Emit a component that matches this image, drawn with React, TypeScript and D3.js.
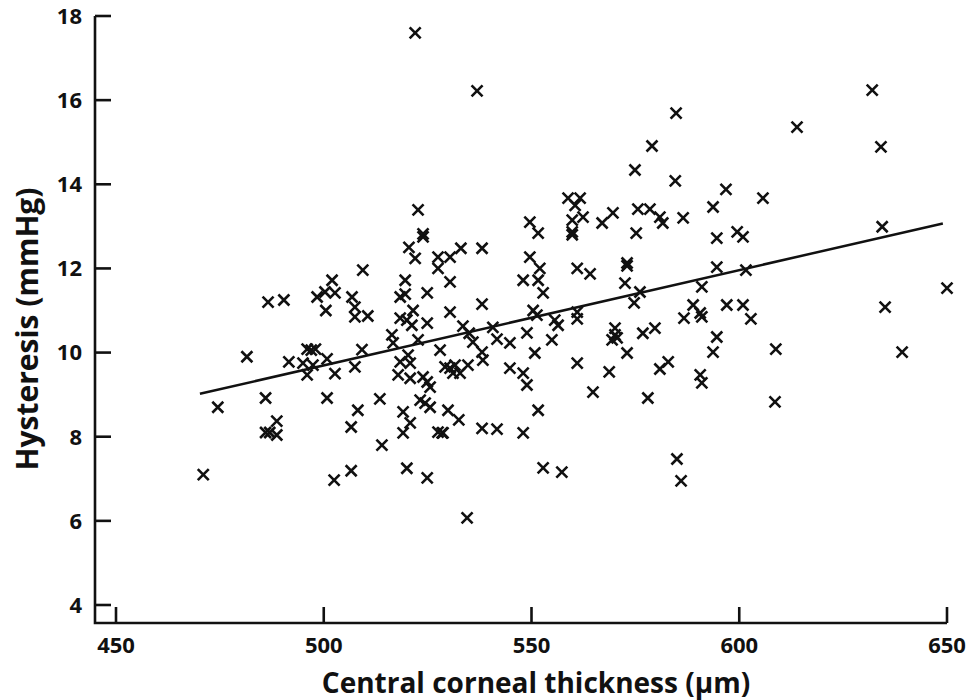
import React, { useEffect, useRef } from 'react'
import * as d3 from 'd3'

// central corneal thickness (µm) and hysteresis (mmHg)
const thickness = [
  471, 474.5, 481.5, 486, 487, 488.7, 488.7, 486, 486.6, 490.4,
  491.6, 496, 497, 498, 495, 496, 497.4, 500.8, 502.7, 500.8,
  498.4, 500.3, 502, 502.7, 500.5, 506.8, 507.5, 507.5, 510.6, 509.4,
  509.2, 507.5, 508.2, 506.6, 506.6, 502.5, 514, 513.5, 522.7, 523.9,
  523.9, 520.5, 522, 527.5, 527.5, 530.4, 533, 538.1, 530.4, 519.6,
  518.4, 519.6, 524.9, 521.5, 530.4, 538.1, 518.4, 520, 521.2, 524.9,
  516.4, 516.7, 522.7, 533.5, 535, 535.9, 540.7, 541.7, 544.8, 548.9,
  550.4, 551.3, 555.6, 556.4, 554.9, 550.8, 538.1, 538.3, 528, 520.3,
  518.4, 520.8, 517.9, 520.8, 523.9, 524.9, 525.6, 529.2, 530.4, 531.6,
  531.1, 532.8, 534.7, 544.8, 548, 548.9, 523.2, 524.4, 525.6, 519.1,
  520.8, 519.1, 529.9, 532.5, 527.5, 528.5, 528.7, 538.1, 541.7, 548,
  551.6, 520, 524.9, 534.5, 552.8, 557.3, 549.6, 551.6, 549.6, 552,
  551.6, 548, 552.8, 579, 574.9, 584.6, 596.8, 558.8, 561.7, 560.5,
  562.4, 567, 569.6, 575.6, 578.5, 580.9, 581.6, 586.5, 593.7, 605.7,
  559.8, 559.8, 559.8, 575.2, 594.6, 599.5, 600.9, 561, 564.1, 573,
  573, 572.5, 576.1, 574.7, 594.6, 601.6, 591, 588.9, 590.6, 591,
  586.7, 597, 600.9, 602.8, 561, 561, 570.1, 570.1, 570.6, 569.4,
  576.8, 579.7, 573, 594.6, 593.7, 561, 568.7, 564.8, 580.9, 582.9,
  590.6, 591, 578, 585, 586, 632, 613.9, 634.1, 584.8, 634.4,
  650, 635.1, 639.2, 608.8, 608.6, 522, 536.9,
]
const hysteresis = [
  7.1, 8.7, 9.9, 8.1, 8.1, 8.37, 8.04, 8.92, 11.2, 11.25,
  9.78, 10.08, 10.06, 10.08, 9.75, 9.47, 9.7, 9.85, 9.5, 8.92,
  11.32, 11.44, 11.72, 11.42, 11.0, 11.32, 11.08, 10.85, 10.87, 11.96,
  10.07, 9.66, 8.63, 8.23, 7.19, 6.97, 7.8, 8.9, 13.39, 12.82,
  12.75, 12.5, 12.24, 12.27, 12.0, 12.27, 12.48, 12.48, 11.68, 11.72,
  11.32, 11.39, 11.42, 11.0, 10.96, 11.15, 10.82, 10.77, 10.65, 10.7,
  10.42, 10.23, 10.3, 10.63, 10.46, 10.25, 10.6, 10.32, 10.23, 10.47,
  11.0, 10.89, 10.77, 10.65, 10.3, 9.99, 10.01, 9.82, 10.06, 9.94,
  9.78, 9.75, 9.47, 9.39, 9.42, 9.3, 9.18, 9.66, 9.63, 9.7,
  9.51, 9.51, 9.7, 9.63, 9.51, 9.23, 8.87, 8.8, 8.7, 8.59,
  8.33, 8.09, 8.63, 8.4, 8.11, 8.09, 8.09, 8.2, 8.18, 8.09,
  8.63, 7.25, 7.02, 6.07, 7.26, 7.16, 13.1, 12.84, 12.27, 12.0,
  11.72, 11.72, 11.42, 14.91, 14.34, 14.08, 13.88, 13.67, 13.67, 13.5,
  13.22, 13.08, 13.32, 13.41, 13.41, 13.22, 13.08, 13.2, 13.46, 13.67,
  13.15, 12.87, 12.8, 12.84, 12.72, 12.87, 12.75, 12.0, 11.87, 12.13,
  12.06, 11.65, 11.44, 11.18, 12.03, 11.96, 11.56, 11.13, 10.94, 10.85,
  10.82, 11.13, 11.13, 10.8, 10.96, 10.8, 10.58, 10.42, 10.35, 10.3,
  10.46, 10.58, 9.99, 10.37, 10.01, 9.75, 9.54, 9.06, 9.61, 9.78,
  9.47, 9.28, 8.92, 7.47, 6.95, 16.24, 15.36, 14.89, 15.69, 12.99,
  11.53, 11.08, 10.01, 10.08, 8.83, 17.6, 16.22,
]

// fitted regression line end points
const fitX = [470.2, 649]
const fitY = [9.02, 13.07]

const xTicks = [450, 500, 550, 600, 650]
const yTicks = [4, 6, 8, 10, 12, 14, 16, 18]

const font = '"Open Sans", sans-serif'

export default function App() {
  const svgRef = useRef(null)

  let width = 966
  let height = 700

  useEffect(() => {
    document.body.style.margin = '0'

    let x = d3.scaleLinear().domain([450, 650]).range([116, 947])
    let y = d3.scaleLinear().domain([4, 18]).range([605, 16])

    let svg = d3.select(svgRef.current)
    svg.selectAll('*').remove()

    let axisLeft = 95
    let axisBottom = 623

    // axis lines
    svg.append('path')
      .attr('d', `M${axisLeft},${y(18)}V${axisBottom}H${x(650)}`)
      .attr('fill', 'none')
      .attr('stroke', '#111')
      .attr('stroke-width', 2.6)

    // y ticks point inward
    svg.selectAll('.ytick')
      .data(yTicks)
      .enter()
      .append('line')
      .attr('x1', axisLeft)
      .attr('x2', axisLeft + 16)
      .attr('y1', (d) => y(d))
      .attr('y2', (d) => y(d))
      .attr('stroke', '#111')
      .attr('stroke-width', 2.6)

    svg.selectAll('.ylab')
      .data(yTicks)
      .enter()
      .append('text')
      .attr('x', 82)
      .attr('y', (d) => y(d))
      .attr('dy', '0.36em')
      .attr('text-anchor', 'end')
      .attr('font-family', font)
      .attr('font-weight', 700)
      .attr('font-size', 22)
      .attr('fill', '#111')
      .text((d) => d)

    svg.selectAll('.xtick')
      .data(xTicks)
      .enter()
      .append('line')
      .attr('x1', (d) => x(d))
      .attr('x2', (d) => x(d))
      .attr('y1', axisBottom)
      .attr('y2', axisBottom - 16)
      .attr('stroke', '#111')
      .attr('stroke-width', 2.6)

    svg.selectAll('.xlab')
      .data(xTicks)
      .enter()
      .append('text')
      .attr('x', (d) => x(d))
      .attr('y', 653)
      .attr('text-anchor', 'middle')
      .attr('font-family', font)
      .attr('font-weight', 700)
      .attr('font-size', 22)
      .attr('fill', '#111')
      .text((d) => d)

    // axis titles
    svg.append('text')
      .attr('x', 536)
      .attr('y', 693)
      .attr('text-anchor', 'middle')
      .attr('font-family', font)
      .attr('font-weight', 700)
      .attr('font-size', 28)
      .attr('fill', '#111')
      .text('Central corneal thickness (\u03bcm)')

    svg.append('text')
      .attr('transform', `translate(38, 329) rotate(-90)`)
      .attr('text-anchor', 'middle')
      .attr('font-family', font)
      .attr('font-weight', 700)
      .attr('font-size', 30)
      .attr('fill', '#111')
      .text('Hysteresis (mmHg)')

    // regression line
    let line = d3.line()
      .x((d) => x(d[0]))
      .y((d) => y(d[1]))
    svg.append('path')
      .datum(d3.zip(fitX, fitY))
      .attr('d', line)
      .attr('fill', 'none')
      .attr('stroke', '#111')
      .attr('stroke-width', 2.5)

    // cross markers
    let r = 5.5
    let points = d3.zip(thickness, hysteresis)
    svg.append('g')
      .selectAll('path')
      .data(points)
      .enter()
      .append('path')
      .attr('d', (d) => {
        let cx = x(d[0])
        let cy = y(d[1])
        return `M${cx - r},${cy - r}L${cx + r},${cy + r}M${cx - r},${cy + r}L${cx + r},${cy - r}`
      })
      .attr('stroke', '#111')
      .attr('stroke-width', 2.6)
  }, [])

  return <svg ref={svgRef} width={width} height={height} style={{ display: 'block' }} />
}
